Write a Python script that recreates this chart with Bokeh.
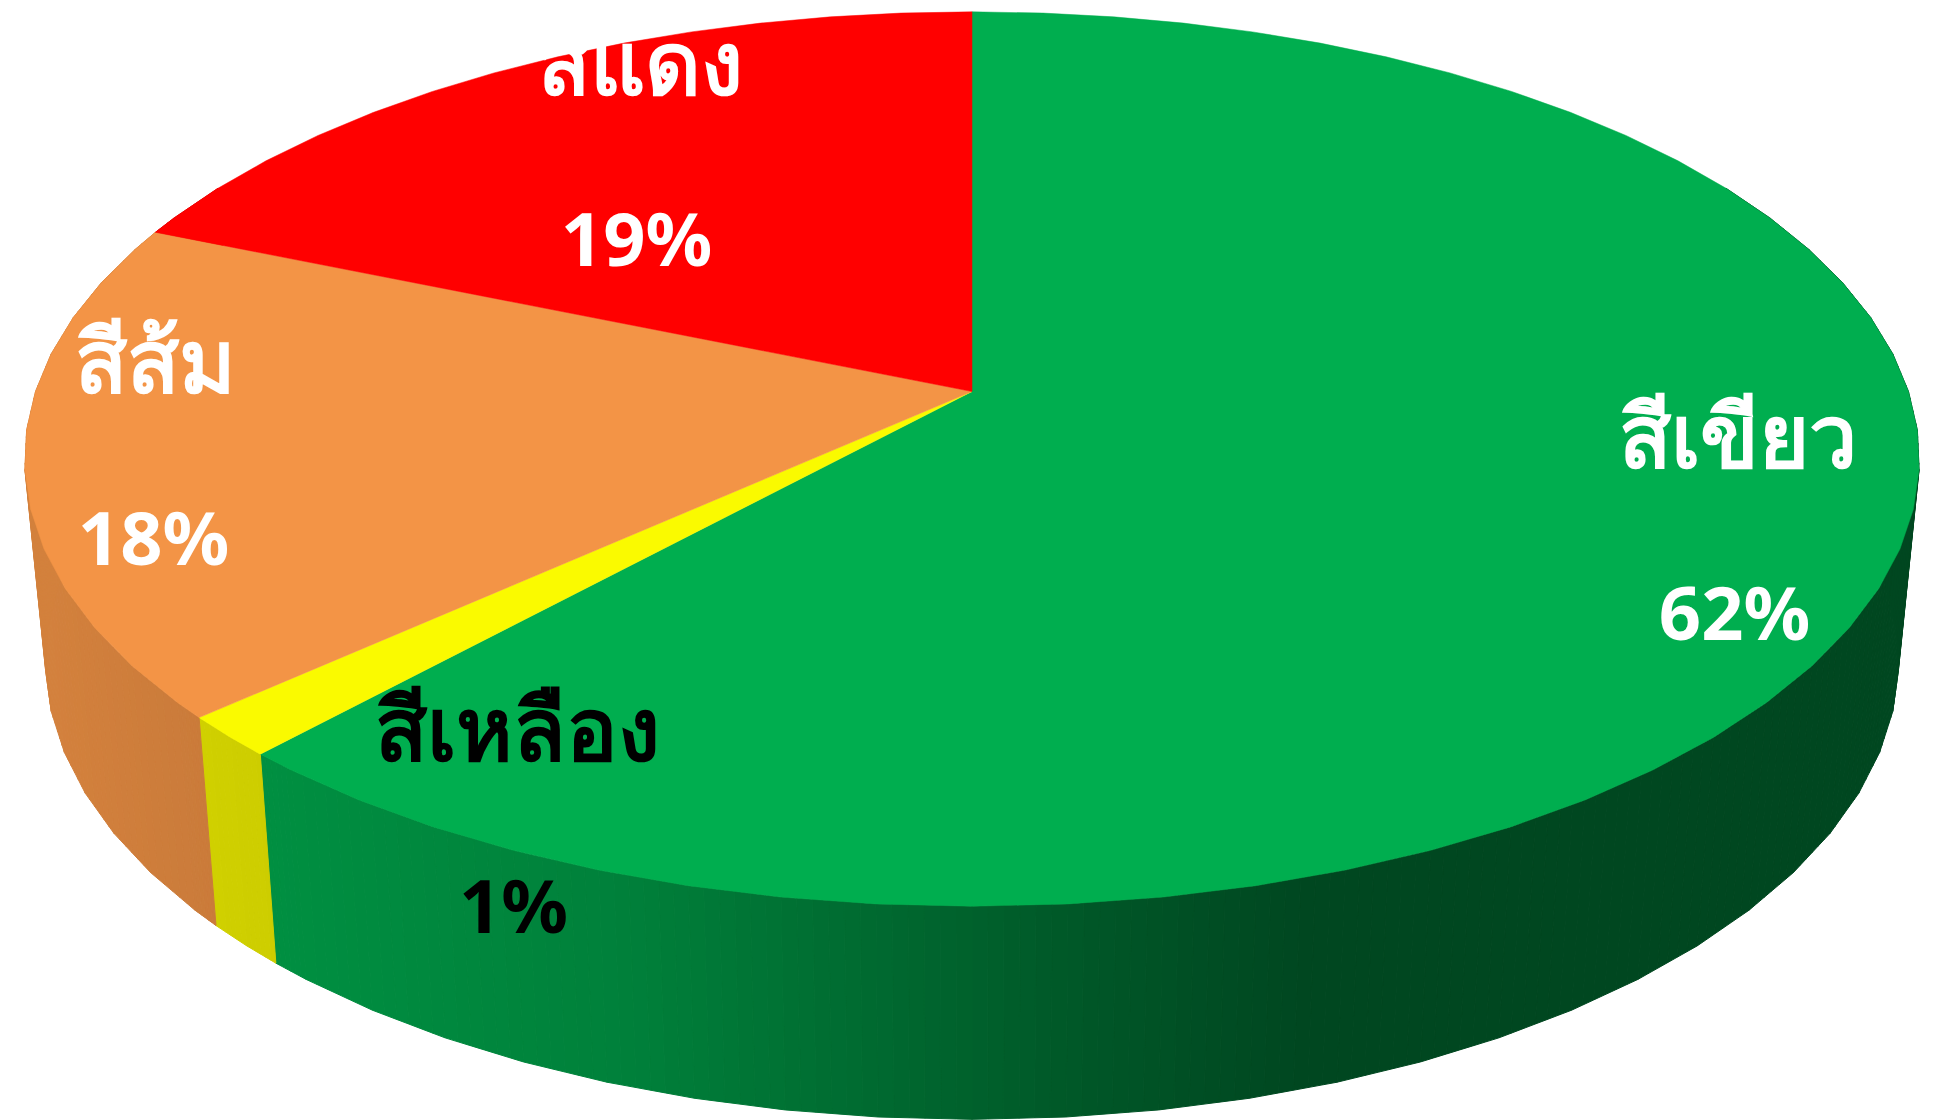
import numpy as np
from bokeh.plotting import figure
from bokeh.models import Range1d
from bokeh.core.properties import value
from bokeh.embed import file_html
from bokeh.resources import INLINE

# data (clockwise from 12 o'clock, shares)
names = ["สีเขียว", "สีเหลือง", "สีส้ม", "สีแดง"]
shares = [61.8, 1.5, 18.0, 18.7]
share_labels = ["62%", "1%", "18%", "19%"]

# styles
slice_colors = [(0, 174, 79), (250, 250, 0), (243, 148, 70), (255, 0, 0)]
text_colors = ["#ffffff", "#000000", "#ffffff", "#ffffff"]
FONT = "Noto Sans"
NAME_PX = "86px"
SHARE_PX = "74px"

# layout: perspective-projected disc, in page pixels of the reference
TOP = dict(cx=971.5, cy=391.0, a=936.5, b=437.0, k=-0.151)
BOTTOM = dict(cx=971.5, cy=590.0, a=916.0, b=449.0, k=-0.151)
FACET = 5.0
SUBSTRIPS = 6
name_anchor = [(1737, 433), (517, 726), (155, 358), (640, 60)]
share_anchor = [(1734, 611), (513, 904), (153, 536), (636, 237)]
# side-wall shading as a function of page x
shade_x = [46, 216, 277, 620, 1100, 1300, 1950]
shade_f = [0.87, 0.83, 0.82, 0.74, 0.49, 0.41, 0.41]


def project(deg, g):
    t = np.radians(deg)
    u, v = np.sin(t), -np.cos(t)
    w = 1 + g["k"] * v
    return g["cx"] + g["a"] * u / w, g["cy"] + g["b"] * v / w


def arc_angles(start, stop):
    inner = np.arange(np.ceil(start / FACET) * FACET, stop, FACET)
    return sorted(set([start, stop] + [float(d) for d in inner]))


p = figure(width=1948, height=1120, output_backend="svg", toolbar_location=None,
           x_range=Range1d(0, 1948), y_range=Range1d(1120, 0),
           min_border=0, outline_line_color=None, background_fill_color="white",
           border_fill_color="white")
p.axis.visible = False
p.grid.visible = False

edges = np.concatenate([[0.0], np.cumsum(shares)]) * 3.6
edges[-1] = 360.0

# side wall, lower half of the rim only
for i, col in enumerate(slice_colors):
    ang = [d for d in arc_angles(edges[i], edges[i + 1])]
    for d0, d1 in zip(ang[:-1], ang[1:]):
        mid = (d0 + d1) / 2
        if not (60 <= mid <= 300):
            continue
        x0t, y0t = project(d0, TOP)
        x1t, y1t = project(d1, TOP)
        x0b, y0b = project(d0, BOTTOM)
        x1b, y1b = project(d1, BOTTOM)
        for s in range(SUBSTRIPS):
            f0, f1 = s / SUBSTRIPS, (s + 1) / SUBSTRIPS
            xs = [x0t + (x1t - x0t) * f0, x0t + (x1t - x0t) * f1,
                  x0b + (x1b - x0b) * f1, x0b + (x1b - x0b) * f0]
            ys = [y0t + (y1t - y0t) * f0, y0t + (y1t - y0t) * f1,
                  y0b + (y1b - y0b) * f1, y0b + (y1b - y0b) * f0]
            shade = float(np.interp(np.mean(xs), shade_x, shade_f))
            c = "#%02x%02x%02x" % tuple(int(round(ch * shade)) for ch in col)
            p.patch(xs, ys, fill_color=c, line_color=c, line_width=1)

# top face
for i, col in enumerate(slice_colors):
    ang = arc_angles(edges[i], edges[i + 1])
    xs, ys = project(np.array(ang), TOP)
    xs = [TOP["cx"]] + list(xs)
    ys = [TOP["cy"]] + list(ys)
    c = "#%02x%02x%02x" % col
    p.patch(xs, ys, fill_color=c, line_color=c, line_width=0.5)

# labels
for i in range(len(names)):
    for txt, (ax, ay), size in ((names[i], name_anchor[i], NAME_PX),
                                (share_labels[i], share_anchor[i], SHARE_PX)):
        p.text([ax], [ay], text=[txt], text_color=text_colors[i],
               text_font=value(FONT), text_font_size=size, text_font_style="bold",
               text_align="center", text_baseline="alphabetic")

open("out.html", "w").write(file_html(p, INLINE))
